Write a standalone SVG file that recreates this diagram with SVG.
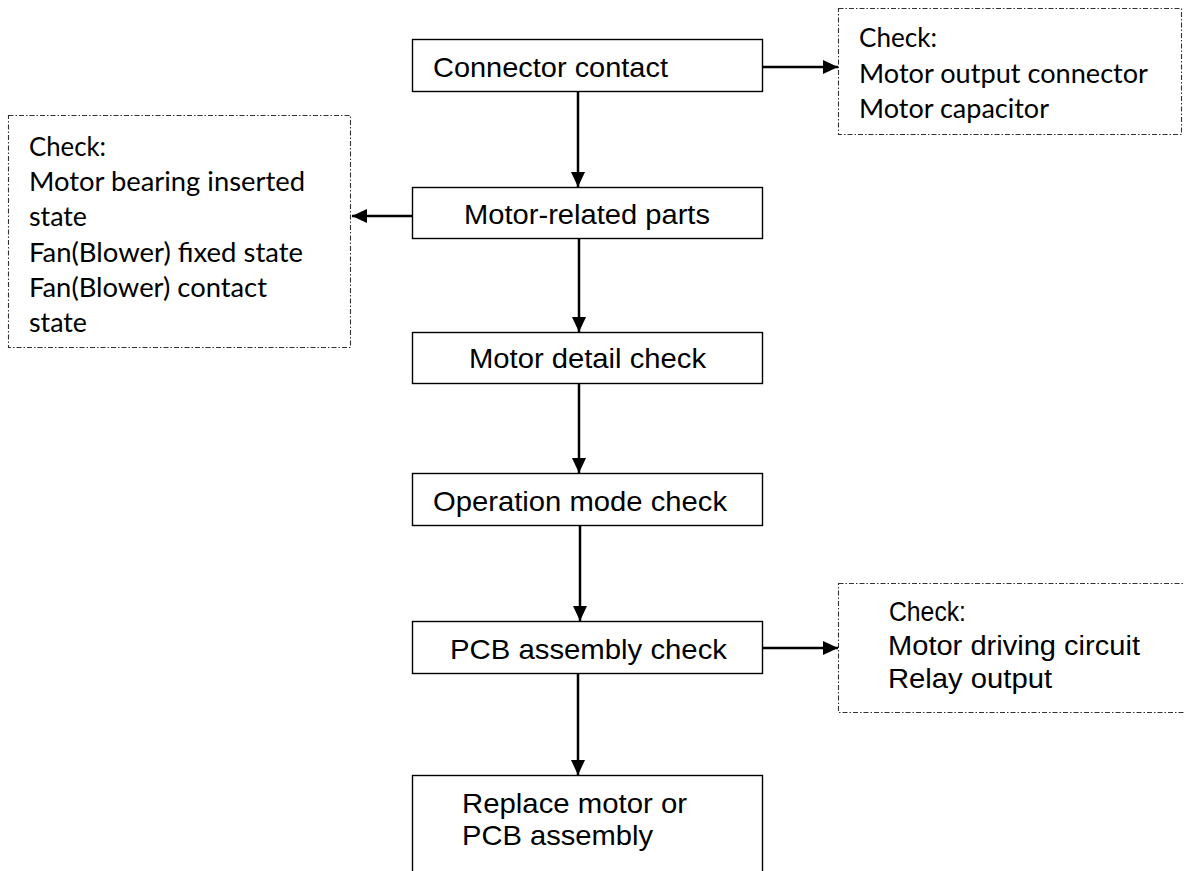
<svg xmlns="http://www.w3.org/2000/svg" width="1184" height="871" viewBox="0 0 1184 871">
  <style>
    .box { fill: #ffffff; stroke: #000000; stroke-width: 1.4; }
    .note { fill: #ffffff; stroke: #333333; stroke-width: 1.1; stroke-dasharray: 5 2 1.5 2; }
    .btxt { font-family: "Liberation Sans", Arial, sans-serif; font-size: 27.5px; fill: #000000; }
    .ntxt { font-family: Lato, "Open Sans", sans-serif; font-size: 26.5px; fill: #000000; }
    .conn { stroke: #000000; stroke-width: 2.5; fill: none; }
  </style>
  <defs>
    <marker id="arrow" viewBox="0 0 15 14" refX="15" refY="7" markerWidth="15" markerHeight="14" markerUnits="userSpaceOnUse" orient="auto">
      <path d="M0,0 L15,7 L0,14 z" fill="#000000"/>
    </marker>
  </defs>
  <rect width="1184" height="871" fill="#ffffff"/>

  <g id="connectors">
    <line class="conn" x1="578" y1="91" x2="578" y2="187" marker-end="url(#arrow)"/>
    <line class="conn" x1="579" y1="239" x2="579" y2="332" marker-end="url(#arrow)"/>
    <line class="conn" x1="579" y1="383" x2="579" y2="473" marker-end="url(#arrow)"/>
    <line class="conn" x1="580" y1="525" x2="580" y2="621" marker-end="url(#arrow)"/>
    <line class="conn" x1="578" y1="673" x2="578" y2="775" marker-end="url(#arrow)"/>
    <line class="conn" x1="763" y1="67" x2="838" y2="67" marker-end="url(#arrow)"/>
    <line class="conn" x1="412" y1="216" x2="352" y2="216" marker-end="url(#arrow)"/>
    <line class="conn" x1="763" y1="648" x2="838" y2="648" marker-end="url(#arrow)"/>
  </g>

  <g id="node-connector-contact">
    <rect class="box" x="412.5" y="39.5" width="350" height="52"/>
    <text class="btxt" x="433" y="77" textLength="235" lengthAdjust="spacingAndGlyphs">Connector contact</text>
  </g>

  <g id="note-connector">
    <rect class="note" x="838.5" y="8.5" width="343" height="126"/>
    <text class="ntxt" x="859" y="47" textLength="78" lengthAdjust="spacingAndGlyphs">Check:</text>
    <text class="ntxt" x="859" y="83" textLength="289" lengthAdjust="spacingAndGlyphs">Motor output connector</text>
    <text class="ntxt" x="859" y="118" textLength="190" lengthAdjust="spacingAndGlyphs">Motor capacitor</text>
  </g>

  <g id="node-motor-related">
    <rect class="box" x="412.5" y="187.5" width="350" height="51"/>
    <text class="btxt" x="464" y="224" textLength="246" lengthAdjust="spacingAndGlyphs">Motor-related parts</text>
  </g>

  <g id="note-motor-related">
    <rect class="note" x="8.5" y="115.5" width="342" height="232"/>
    <text class="ntxt" x="29" y="156" textLength="77" lengthAdjust="spacingAndGlyphs">Check:</text>
    <text class="ntxt" x="29" y="191" textLength="276" lengthAdjust="spacingAndGlyphs">Motor bearing inserted</text>
    <text class="ntxt" x="29" y="226" textLength="58" lengthAdjust="spacingAndGlyphs">state</text>
    <text class="ntxt" x="29" y="262" textLength="274" lengthAdjust="spacingAndGlyphs">Fan(Blower) fixed state</text>
    <text class="ntxt" x="29" y="297" textLength="238" lengthAdjust="spacingAndGlyphs">Fan(Blower) contact</text>
    <text class="ntxt" x="29" y="332" textLength="58" lengthAdjust="spacingAndGlyphs">state</text>
  </g>

  <g id="node-motor-detail">
    <rect class="box" x="412.5" y="332.5" width="350" height="51"/>
    <text class="btxt" x="469" y="368" textLength="237" lengthAdjust="spacingAndGlyphs">Motor detail check</text>
  </g>

  <g id="node-operation-mode">
    <rect class="box" x="412.5" y="473.5" width="350" height="52"/>
    <text class="btxt" x="433" y="511" textLength="294" lengthAdjust="spacingAndGlyphs">Operation mode check</text>
  </g>

  <g id="node-pcb-check">
    <rect class="box" x="412.5" y="621.5" width="350" height="52"/>
    <text class="btxt" x="450" y="659" textLength="277" lengthAdjust="spacingAndGlyphs">PCB assembly check</text>
  </g>

  <g id="note-pcb">
    <rect class="note" x="838.5" y="583.5" width="360" height="129"/>
    <text class="btxt" x="889" y="621" textLength="77" lengthAdjust="spacingAndGlyphs">Check:</text>
    <text class="btxt" x="888" y="655" textLength="252" lengthAdjust="spacingAndGlyphs">Motor driving circuit</text>
    <text class="btxt" x="888" y="688" textLength="164" lengthAdjust="spacingAndGlyphs">Relay output</text>
  </g>

  <g id="node-replace">
    <rect class="box" x="412.5" y="775.5" width="350" height="120"/>
    <text class="btxt" x="462" y="813" textLength="225" lengthAdjust="spacingAndGlyphs">Replace motor or</text>
    <text class="btxt" x="462" y="845" textLength="191" lengthAdjust="spacingAndGlyphs">PCB assembly</text>
  </g>
</svg>
